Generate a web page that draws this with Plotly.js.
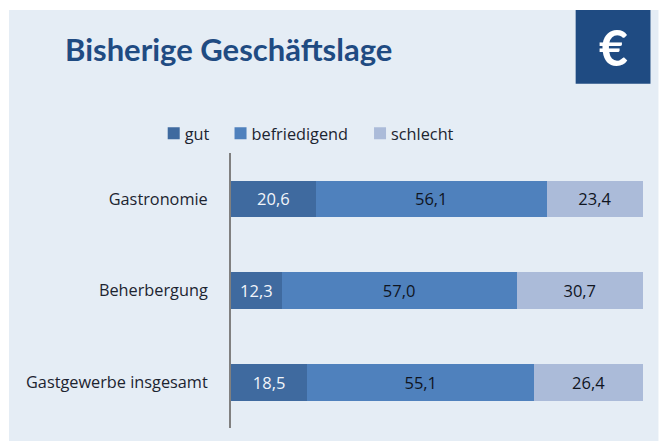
<!DOCTYPE html>
<html><head><meta charset="utf-8">
<script src="https://cdn.plot.ly/plotly-3.0.1.min.js"></script>
<style>html,body{margin:0;padding:0;background:#fff}</style></head>
<body><div id="chart" style="width:659px;height:441px"></div>
<script>
const categories = ["Gastronomie", "Beherbergung", "Gastgewerbe insgesamt"];
const gut = [20.6, 12.3, 18.5];
const befriedigend = [56.1, 57.0, 55.1];
const schlecht = [23.4, 30.7, 26.4];
const W = 659, H = 441;
const M = {l: 230.5, r: 15.5, t: 152.5, b: 12.5};
const px = x => (x - M.l) / (W - M.l - M.r);
const py = y => 1 - (y - 1 - M.t) / (H - M.t - M.b);
const bodyFont = '"Open Sans", sans-serif';
const fmt = a => a.map(v => v.toFixed(1).replace('.', ','));
const mk = (name, vals, color, tc) => ({
  type: 'bar', orientation: 'h', name, y: categories, x: vals,
  marker: {color, line: {width: 0}},
  text: fmt(vals), textposition: 'inside', insidetextanchor: 'middle', textangle: 0,
  insidetextfont: {family: bodyFont, size: 16.5, color: tc}, hoverinfo: 'x+y'
});
const data = [
  mk('gut', gut, '#3f6a9f', '#f2f5fa'),
  mk('befriedigend', befriedigend, '#4f81bd', '#10151f'),
  mk('schlecht', schlecht, '#abbbd9', '#10151f')
];
const layout = {
  width: W, height: H, margin: M, paper_bgcolor: '#fff', plot_bgcolor: 'rgba(0,0,0,0)',
  barmode: 'stack', barnorm: 'percent', bargap: 0.6, showlegend: true,
  title: {text: '<b>Bisherige Geschäftslage</b>', font: {family: 'Lato, sans-serif', size: 31, color: '#1f4b82'},
    x: 65 / W, xanchor: 'left', xref: 'container', y: 1 - 50 / H, yanchor: 'middle', yref: 'container'},
  xaxis: {range: [0, 100], visible: false, fixedrange: true},
  yaxis: {type: 'category', autorange: 'reversed', showline: true, linecolor: '#808080', linewidth: 2,
    showgrid: false, zeroline: false, ticks: 'outside', ticklen: 18, tickcolor: 'rgba(0,0,0,0)',
    tickfont: {family: bodyFont, size: 16.3, color: '#1c2430'}, fixedrange: true},
  legend: {orientation: 'h', x: px(144), xanchor: 'left', y: py(134), yanchor: 'middle', traceorder: 'normal',
    font: {family: bodyFont, size: 16.3, color: '#1c2430'}, bgcolor: 'rgba(0,0,0,0)', itemclick: false, itemdoubleclick: false},
  shapes: [
    {type: 'rect', xref: 'paper', yref: 'paper', layer: 'below', x0: px(8), x1: px(659), y0: py(10), y1: py(443), fillcolor: '#e5edf5', line: {width: 0}},
    {type: 'rect', xref: 'paper', yref: 'paper', layer: 'below', x0: px(576), x1: px(651), y0: py(10), y1: py(84), fillcolor: '#1f4b82', line: {width: 0}}
  ],
  annotations: [{text: '<b>€</b>', xref: 'paper', yref: 'paper', x: px(613.5), y: py(47), xanchor: 'center', yanchor: 'middle', showarrow: false,
    font: {family: 'Lato, sans-serif', size: 50, color: '#fff'}}]
};
const legendShift = [0, -3, -5];
Plotly.newPlot('chart', data, layout, {displayModeBar: false, staticPlot: true}).then(() => {
  document.querySelectorAll('.legendsymbols').forEach(s => s.setAttribute('transform', 'translate(9,0)'));
  document.querySelectorAll('.legend .traces').forEach((t, i) => {
    const m = /translate\(([-\d.]+),\s*([-\d.]+)\)/.exec(t.getAttribute('transform') || '');
    if (m) t.setAttribute('transform', `translate(${+m[1] + legendShift[i]},${m[2]})`);
  });
});
</script></body></html>
